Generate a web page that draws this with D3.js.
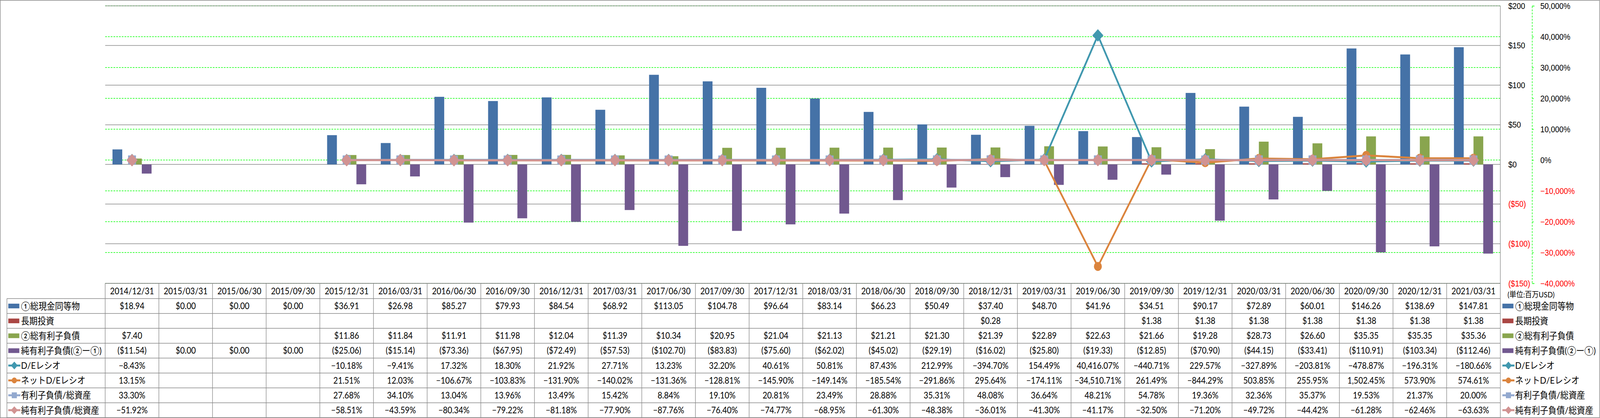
<!DOCTYPE html>
<html>
<title>純有利子負債</title>
<meta charset="UTF-8">
<script type="text/javascript" src="https://d3js.org/d3.v7.min.js"></script>
<style type="text/css">
	html, body { margin:0; padding:0; background:#fff; overflow:hidden; }
	svg { display:block; font-family: Lato, "Noto Sans CJK JP", sans-serif; }
	.axis text { font-size: 22px; }
	.tbl text { font-size: 23px; }
	.leg text { font-size: 24px; }
</style>
<body>
<svg id="viz"></svg>
<script type="text/javascript">

var dates = ["2014/12/31","2015/03/31","2015/06/30","2015/09/30","2015/12/31","2016/03/31","2016/06/30","2016/09/30","2016/12/31","2017/03/31","2017/06/30","2017/09/30","2017/12/31","2018/03/31","2018/06/30","2018/09/30","2018/12/31","2019/03/31","2019/06/30","2019/09/30","2019/12/31","2020/03/31","2020/06/30","2020/09/30","2020/12/31","2021/03/31"];

var cash = [18.94,0,0,0,36.91,26.98,85.27,79.93,84.54,68.92,113.05,104.78,96.64,83.14,66.23,50.49,37.40,48.70,41.96,34.51,90.17,72.89,60.01,146.26,138.69,147.81];
var ltInvest = [null,null,null,null,null,null,null,null,null,null,null,null,null,null,null,null,0.28,null,null,1.38,1.38,1.38,1.38,1.38,1.38,1.38];
var debt = [7.40,null,null,null,11.86,11.84,11.91,11.98,12.04,11.39,10.34,20.95,21.04,21.13,21.21,21.30,21.39,22.89,22.63,21.66,19.28,28.73,26.60,35.35,35.35,35.36];
var netDebt = [-11.54,0,0,0,-25.06,-15.14,-73.36,-67.95,-72.49,-57.53,-102.70,-83.83,-75.60,-62.02,-45.02,-29.19,-16.02,-25.80,-19.33,-12.85,-70.90,-44.15,-33.41,-110.91,-103.34,-112.46];

var deRatio = [-8.43,null,null,null,-10.18,-9.41,17.32,18.30,21.92,27.71,13.23,32.20,40.61,50.81,87.43,212.99,-394.70,154.49,40416.07,-440.71,229.57,-327.89,-203.81,-478.87,-196.31,-180.66];
var netDeRatio = [13.15,null,null,null,21.51,12.03,-106.67,-103.83,-131.90,-140.02,-131.36,-128.81,-145.90,-149.14,-185.54,-291.86,295.64,-174.11,-34510.71,261.49,-844.29,503.85,255.95,1502.45,573.90,574.61];
var debtAssets = [33.30,null,null,null,27.68,34.10,13.04,13.96,13.49,15.42,8.84,19.10,20.81,23.49,28.88,35.31,48.08,36.64,48.21,54.78,19.36,32.36,35.37,19.53,21.37,20.00];
var netDebtAssets = [-51.92,null,null,null,-58.51,-43.59,-80.34,-79.22,-81.18,-77.90,-87.76,-76.40,-74.77,-68.95,-61.30,-48.38,-36.01,-41.30,-41.17,-32.50,-71.20,-49.72,-44.42,-61.28,-62.46,-63.63];

var dollarTicks = [-150,-100,-50,0,50,100,150,200];
var pctTicks = [-40000,-30000,-20000,-10000,0,10000,20000,30000,40000,50000];

var barSeries = [
	{name:"①総現金同等物", values:cash, color:"#4572A7"},
	{name:"長期投資", values:ltInvest, color:"#AA4643"},
	{name:"②総有利子負債", values:debt, color:"#89A54E"},
	{name:"純有利子負債(②ー①)", values:netDebt, color:"#71588F"}
];
var lineSeries = [
	{name:"D/Eレシオ", values:deRatio, color:"#4198AF", marker:"diamond"},
	{name:"ネットD/Eレシオ", values:netDeRatio, color:"#DB843D", marker:"circle"},
	{name:"有利子負債/総資産", values:debtAssets, color:"#93A9CF", marker:"square"},
	{name:"純有利子負債/総資産", values:netDebtAssets, color:"#D19392", marker:"diamond"}
];

var W = 4639, H = 1071;
var plotL = 305, plotR = 4350, plotT = 15, plotB = 726;
var gray = "#878787";

// drawn in a fixed 4639x1071 space, stretched to whatever the window really is
var svg = d3.select("#viz")
	.attr("viewBox", "0 0 " + W + " " + H)
	.attr("preserveAspectRatio", "none")
	.attr("width", window.innerWidth || W)
	.attr("height", window.innerHeight || H);

var x = d3.scaleBand().domain(dates).range([plotL, plotR]);
var yL = d3.scaleLinear().domain([-150, 200]).range([plotB, plotT]);
var yR = d3.scaleLinear().domain([-40000, 50000]).range([plotB, plotT]);
var bw = x.bandwidth();
var barW = bw * 0.182;

// outer border
svg.append("rect").attr("x",0.75).attr("y",0.75).attr("width",W-2).attr("height",H-1.5)
	.attr("fill","none").attr("stroke",gray).attr("stroke-width",1.5);

// gridlines
svg.append("g").selectAll("line").data(pctTicks).enter().append("line")
	.attr("x1",plotL).attr("x2",plotR)
	.attr("y1",function(d){ return yR(d); }).attr("y2",function(d){ return yR(d); })
	.attr("stroke","#00FF00").attr("stroke-width",1.5).attr("stroke-dasharray","5,3");
svg.append("g").selectAll("line").data(dollarTicks).enter().append("line")
	.attr("x1",plotL).attr("x2",plotR)
	.attr("y1",function(d){ return yL(d); }).attr("y2",function(d){ return yL(d); })
	.attr("stroke",gray).attr("stroke-width",1.5);
svg.append("line").attr("x1",plotR).attr("x2",plotR).attr("y1",plotT).attr("y2",1070)
	.attr("stroke",gray).attr("stroke-width",1.5);

// bars
barSeries.forEach(function(s, i){
	svg.append("g").selectAll("rect")
		.data(s.values.map(function(v, j){ return {v:v, d:dates[j]}; }).filter(function(o){ return o.v !== null; }))
		.enter().append("rect")
		.attr("x", function(o){ return x(o.d) + bw/2 - 2*barW + i*barW; })
		.attr("width", barW)
		.attr("y", function(o){ return yL(Math.max(0, o.v)); })
		.attr("height", function(o){ return Math.abs(yL(o.v) - yL(0)); })
		.attr("fill", s.color);
});

function markerPath(type, r){
	if (type === "diamond") return "M0," + (-r) + "L" + r + ",0L0," + r + "L" + (-r) + ",0Z";
	if (type === "square") return "M" + (-r) + "," + (-r) + "h" + (2*r) + "v" + (2*r) + "h" + (-2*r) + "Z";
	return d3.symbol().type(d3.symbolCircle).size(Math.PI*r*r)();
}
var markerR = {diamond:16, square:11.5, circle:11.5};

// lines
lineSeries.forEach(function(s){
	var g = svg.append("g");
	var line = d3.line()
		.defined(function(v){ return v !== null; })
		.x(function(v, j){ return x(dates[j]) + bw/2; })
		.y(function(v){ return yR(v); });
	g.append("path").datum(s.values).attr("d", line)
		.attr("fill","none").attr("stroke", s.color).attr("stroke-width",5).attr("stroke-linejoin","round");
	g.selectAll("path.m")
		.data(s.values.map(function(v, j){ return {v:v, d:dates[j]}; }).filter(function(o){ return o.v !== null; }))
		.enter().append("path").attr("class","m")
		.attr("transform", function(o){ return "translate(" + (x(o.d) + bw/2) + "," + yR(o.v) + ")"; })
		.attr("d", markerPath(s.marker, markerR[s.marker]))
		.attr("fill", s.color);
});

// axes
var axL = svg.append("g").attr("class","axis").attr("transform","translate(" + plotR + ",0)")
	.call(d3.axisRight(yL).tickValues(dollarTicks).tickSize(0).tickPadding(23)
		.tickFormat(function(d){ return d < 0 ? "($" + (-d) + ")" : "$" + d; }));
axL.select(".domain").remove();
axL.selectAll("text").attr("fill", function(d){ return d < 0 ? "#FF0000" : "#000"; });

var axR = svg.append("g").attr("class","axis").attr("transform","translate(4442,0)")
	.call(d3.axisRight(yR).tickValues(pctTicks).tickSize(7).tickPadding(17)
		.tickFormat(function(d){ return d3.format(",")(d) + "%"; }));
axR.selectAll(".domain, line").attr("stroke","#00FF00").attr("stroke-width",1.5).attr("stroke-dasharray","5,3");
axR.selectAll("text").attr("fill", function(d){ return d < 0 ? "#FF0000" : "#000"; });

svg.append("text").attr("x",4371).attr("y",755).attr("dy","0.35em")
	.style("font-size","20px").text("(単位:百万USD)");

// data table
var tblTop = 726, rowTop = 765, rowH = (1070 - 765) / 8;
var tbl = svg.append("g").attr("class","tbl");
tbl.append("line").attr("x1",plotL).attr("x2",plotR).attr("y1",tblTop).attr("y2",tblTop)
	.attr("stroke",gray).attr("stroke-width",1.5);
d3.range(9).forEach(function(i){
	tbl.append("line").attr("x1",20).attr("x2",plotR).attr("y1",rowTop + i*rowH).attr("y2",rowTop + i*rowH)
		.attr("stroke",gray).attr("stroke-width",1.5);
});
tbl.append("line").attr("x1",20).attr("x2",20).attr("y1",rowTop).attr("y2",1070)
	.attr("stroke",gray).attr("stroke-width",1.5);
tbl.selectAll("line.v").data(dates).enter().append("line").attr("class","v")
	.attr("x1",function(d){ return x(d); }).attr("x2",function(d){ return x(d); })
	.attr("y1",tblTop).attr("y2",1070).attr("stroke",gray).attr("stroke-width",1.5);

tbl.selectAll("text.h").data(dates).enter().append("text").attr("class","h")
	.attr("x",function(d){ return x(d) + bw/2; }).attr("y",(tblTop + rowTop)/2).attr("dy","0.35em")
	.attr("text-anchor","middle").text(function(d){ return d; });

function fmtDollar(v){ return v < 0 ? "($" + (-v).toFixed(2) + ")" : "$" + v.toFixed(2); }
function fmtPct(v){ return d3.format(",.2f")(v) + "%"; }

var rows = barSeries.map(function(s){ return {s:s, fmt:fmtDollar, kind:"bar"}; })
	.concat(lineSeries.map(function(s){ return {s:s, fmt:fmtPct, kind:"line"}; }));

rows.forEach(function(r, i){
	var cy = rowTop + (i + 0.5) * rowH;
	tbl.selectAll("text.r" + i)
		.data(r.s.values.map(function(v, j){ return {v:v, d:dates[j]}; }).filter(function(o){ return o.v !== null; }))
		.enter().append("text").attr("class","r" + i)
		.attr("x",function(o){ return x(o.d) + bw/2; }).attr("y",cy).attr("dy","0.35em")
		.attr("text-anchor","middle").text(function(o){ return r.fmt(o.v); });

	[24, 4356].forEach(function(lx){
		var lg = svg.append("g").attr("class","leg").attr("transform","translate(" + lx + "," + cy + ")");
		if (r.kind === "bar") {
			lg.append("rect").attr("x",0).attr("y",-6).attr("width",32).attr("height",12).attr("fill",r.s.color);
		} else {
			lg.append("line").attr("x1",0).attr("x2",35).attr("y1",0).attr("y2",0)
				.attr("stroke",r.s.color).attr("stroke-width",5);
			var mr = r.s.marker === "diamond" ? 10 : 7.5;
			lg.append("path").attr("transform","translate(17.5,0)")
				.attr("d", markerPath(r.s.marker, mr)).attr("fill", r.s.color);
		}
		lg.append("text").attr("x",37).attr("dy","0.36em").text(r.s.name);
	});
});

</script>
</body>
</html>
